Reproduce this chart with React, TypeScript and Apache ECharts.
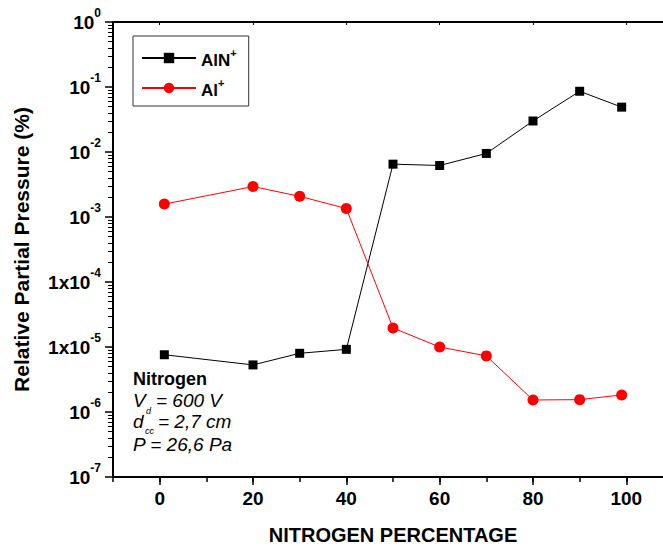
import React, { useEffect, useRef } from "react";
import * as echarts from "echarts";

const nitrogenPct = [1, 20, 30, 40, 50, 60, 70, 80, 90, 99];
const alnValues = [7.6e-6, 5.3e-6, 8.0e-6, 9.2e-6, 6.5e-3, 6.2e-3, 9.5e-3, 3.0e-2, 8.6e-2, 4.9e-2];
const alValues = [1.58e-3, 2.94e-3, 2.08e-3, 1.35e-3, 1.96e-5, 1.0e-5, 7.3e-6, 1.53e-6, 1.55e-6, 1.83e-6];
const seriesNames = ["AlN+", "Al+"];
const xTickLabels = [0, 20, 40, 60, 80, 100];
const yLongLabelExps = [-4, -5];

const FONT = "'Liberation Sans', Arial, sans-serif";

export default function App() {
  const ref = useRef<HTMLDivElement>(null);
  useEffect(() => {
    if (!ref.current) return;
    const chart = echarts.init(ref.current, null, { renderer: "svg" });
    const minorY: number[] = [];
    for (let e = -7; e < 0; e++) for (let k = 2; k <= 9; k++) minorY.push(k * Math.pow(10, e));
    const rich = {
      b: { fontSize: 19, fontWeight: "bold", fontFamily: FONT, color: "#000", padding: [6, 0, 0, 0], verticalAlign: "bottom" },
      s: { fontSize: 12, fontWeight: "bold", fontFamily: FONT, color: "#000", verticalAlign: "top" },
    };
    const option: any = {
      animation: false,
      backgroundColor: "#fff",
      textStyle: { fontFamily: FONT },
      grid: { left: 113, width: 560, top: 22, height: 455, containLabel: false, outerBoundsMode: "none" },
      legend: {
        left: 133,
        top: 36,
        orient: "vertical",
        data: seriesNames,
        itemWidth: 54,
        itemHeight: 13,
        itemGap: 8,
        padding: [11, 12, 7, 8],
        borderColor: "#333",
        borderWidth: 1,
        formatter: (n: string) => `{b|${n.replace("+", "")}}{s|+}`,
        textStyle: {
          rich: {
            b: { fontSize: 17, fontWeight: "bold", fontFamily: FONT, color: "#000", padding: [5, 0, 0, 0], verticalAlign: "bottom" },
            s: { fontSize: 11, fontWeight: "bold", fontFamily: FONT, color: "#000", verticalAlign: "top" },
          },
        },
      },
      xAxis: [
        {
          type: "value",
          min: -10,
          max: 110,
          interval: 10,
          position: "bottom",
          name: "NITROGEN PERCENTAGE",
          nameLocation: "middle",
          nameGap: 48,
          nameTextStyle: { fontSize: 20, fontWeight: "bold", color: "#000", fontFamily: FONT },
          axisLine: { onZero: false, lineStyle: { color: "#000", width: 2 } },
          axisTick: { show: true, length: 5, lineStyle: { color: "#000", width: 1.5 } },
          axisLabel: {
            margin: 12,
            fontSize: 19,
            fontWeight: "bold",
            color: "#000",
            fontFamily: FONT,
            formatter: (v: number) => (xTickLabels.includes(v) ? String(v) : ""),
          },
          splitLine: { show: false },
        },
        {
          type: "value",
          min: -10,
          max: 110,
          position: "bottom",
          axisLine: { show: false, onZero: false },
          axisTick: { show: true, length: 8, customValues: xTickLabels, lineStyle: { color: "#000", width: 1.5 } },
          axisLabel: { show: false },
          splitLine: { show: false },
        },
        {
          type: "value",
          min: -10,
          max: 110,
          position: "top",
          axisLine: { onZero: false, lineStyle: { color: "#000", width: 2 } },
          axisTick: { show: true, inside: true, length: 3, customValues: xTickLabels, lineStyle: { color: "#000", width: 1 } },
          axisLabel: { show: false },
          splitLine: { show: false },
        },
      ],
      yAxis: [
        {
          type: "log",
          logBase: 10,
          min: 1e-7,
          max: 1,
          splitNumber: 7,
          position: "left",
          name: "Relative Partial Pressure (%)",
          nameLocation: "middle",
          nameGap: 81,
          nameTextStyle: { fontSize: 21, fontWeight: "bold", color: "#000", fontFamily: FONT },
          axisLine: { show: true, onZero: false, lineStyle: { color: "#000", width: 2 } },
          axisTick: { show: true, length: 8, lineStyle: { color: "#000", width: 1.5 } },
          axisLabel: {
            margin: 12,
            padding: [0, 0, 6, 0],
            formatter: (v: number) => {
              const e = Math.round(Math.log10(v));
              const base = yLongLabelExps.includes(e) ? "1x10" : "10";
              return `{b|${base}}{s|${e}}`;
            },
            rich,
          },
          splitLine: { show: false },
        },
        {
          type: "log",
          logBase: 10,
          min: 1e-7,
          max: 1,
          position: "left",
          axisLine: { show: false, onZero: false },
          axisTick: { show: true, length: 5, customValues: minorY, lineStyle: { color: "#000", width: 1 } },
          axisLabel: { show: false },
          splitLine: { show: false },
        },
      ],
      series: [
        {
          name: seriesNames[0],
          type: "line",
          xAxisIndex: 0,
          yAxisIndex: 0,
          data: nitrogenPct.map((x, i) => [x, alnValues[i]]),
          symbol: "rect",
          symbolSize: 9,
          itemStyle: { color: "#000" },
          lineStyle: { color: "#000", width: 1 },
        },
        {
          name: seriesNames[1],
          type: "line",
          xAxisIndex: 0,
          yAxisIndex: 0,
          data: nitrogenPct.map((x, i) => [x, alValues[i]]),
          symbol: "circle",
          symbolSize: 11,
          itemStyle: { color: "#ff0000" },
          lineStyle: { color: "#ff0000", width: 1 },
        },
      ],
      graphic: [
        { type: "text", left: 133, top: 370, style: { text: "Nitrogen", font: `bold 18px ${FONT}`, fill: "#000" } },
        { type: "text", left: 133, top: 391, style: { text: "V", font: `italic 19px ${FONT}`, fill: "#000" } },
        { type: "text", left: 146, top: 406, style: { text: "d", font: `italic 9px ${FONT}`, fill: "#000" } },
        { type: "text", left: 156, top: 391, style: { text: "= 600 V", font: `italic 19px ${FONT}`, fill: "#000" } },
        { type: "text", left: 133, top: 412, style: { text: "d", font: `italic 19px ${FONT}`, fill: "#000" } },
        { type: "text", left: 145, top: 426, style: { text: "cc", font: `italic 9px ${FONT}`, fill: "#000" } },
        { type: "text", left: 158, top: 412, style: { text: "= 2,7 cm", font: `italic 19px ${FONT}`, fill: "#000" } },
        { type: "text", left: 133, top: 435, style: { text: "P = 26,6 Pa", font: `italic 19px ${FONT}`, fill: "#000" } },
      ],
    };
    chart.setOption(option);
    return () => chart.dispose();
  }, []);
  return <div ref={ref} style={{ position: "fixed", left: 0, top: 0, width: 663, height: 546, background: "#fff" }} />;
}
